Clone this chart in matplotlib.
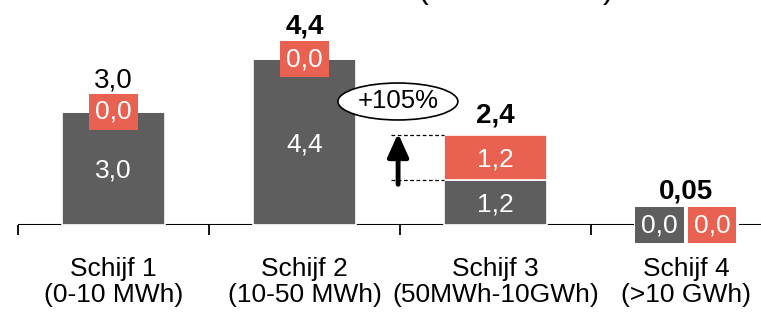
import matplotlib
matplotlib.use("Agg")
import matplotlib.pyplot as plt
from matplotlib.patches import Ellipse

plt.rcParams['font.family'] = ['Liberation Sans', 'DejaVu Sans']

categories = ["Schijf 1\n(0-10 MWh)", "Schijf 2\n(10-50 MWh)", "Schijf 3\n(50MWh-10GWh)", "Schijf 4\n(>10 GWh)"]
grey_values = [3.0, 4.4, 1.2, 0.02]
red_values = [0.0, 0.0, 1.2, 0.03]
grey_labels = ["3,0", "4,4", "1,2", "0,0"]
red_labels = ["0,0", "0,0", "1,2", "0,0"]
total_values = [3.0, 4.4, 2.4, 0.05]
total_labels = ["3,0", "4,4", "2,4", "0,05"]
total_bold = [False, True, True, True]
growth_label = "+105%"
title_text = "(in mld. EUR)"

GREY = "#5E5E5E"
RED = "#E86151"

fig = plt.figure(figsize=(7.61, 3.14), dpi=100)
ax = fig.add_axes([18/761, 89/314, 743/761, 225/314])
ax.set_xlim(-0.5, -0.5 + 743/191)
ax.set_ylim(0, 225/37.7)

x = list(range(len(categories)))
w = 0.54
ax.bar(x, grey_values, width=w, color=GREY, edgecolor="white", linewidth=1.2, zorder=2)
ax.bar(x, red_values, width=w, bottom=grey_values, color=RED, edgecolor="white", linewidth=1.2, zorder=2)

fs = 19
box_pad = "square,pad=0.23"
for i in range(len(categories)):
    g, r = grey_values[i], red_values[i]
    if i < 2:
        ax.text(i, g / 2 - 0.06, grey_labels[i], ha="center", va="center", color="white", fontsize=fs, zorder=4)
        ax.text(i, g, red_labels[i], ha="center", va="center", color="white", fontsize=fs, zorder=4,
                bbox=dict(boxstyle=box_pad, fc=RED, ec="none"))
    elif i == 2:
        ax.text(i, g / 2 - 0.06, grey_labels[i], ha="center", va="center", color="white", fontsize=fs, zorder=4)
        ax.text(i, g + r / 2 - 0.06, red_labels[i], ha="center", va="center", color="white", fontsize=fs, zorder=4)
    else:
        ax.text(i - 0.142, 0, grey_labels[i], ha="center", va="center", color="white", fontsize=fs, zorder=4,
                bbox=dict(boxstyle=box_pad, fc=GREY, ec="none"))
        ax.text(i + 0.134, 0, red_labels[i], ha="center", va="center", color="white", fontsize=fs, zorder=4,
                bbox=dict(boxstyle=box_pad, fc=RED, ec="none"))

total_offsets = [0.66, 0.69, 0.31, 0.64]
for i in range(len(categories)):
    ax.text(i, total_values[i] + total_offsets[i], total_labels[i], ha="center", va="baseline",
            fontsize=20, color="black", fontweight="bold" if total_bold[i] else "normal", zorder=4)

# growth arrow for Schijf 3
lo = grey_values[2]
hi = grey_values[2] + red_values[2]
ax.annotate("", xy=(1.49, hi + 0.03), xytext=(1.49, lo - 0.12),
            arrowprops=dict(arrowstyle="-|>,head_width=0.45,head_length=1.0", color="black", lw=3.5,
                            mutation_scale=14, shrinkA=0, shrinkB=0), zorder=5)
for yv in (lo, hi):
    ax.plot([1.455, 2 - w / 2], [yv, yv], color="black", lw=0.9, ls=(0, (3, 2)), zorder=3)
ax.add_patch(Ellipse((1.489, 3.276), 0.628, 0.98, fc="white", ec="black", lw=1.2, zorder=5))
ax.text(1.489, 3.276, growth_label, ha="center", va="center", fontsize=18.5, zorder=6)

# axis
for s in ax.spines.values():
    s.set_visible(False)
ax.axhline(0, color="black", lw=1.5, zorder=1)
ax.set_yticks([])
ax.set_xticks([-0.5, 0.5, 1.5, 2.5])
ax.set_xticklabels([])
ax.tick_params(axis="x", length=7.5, width=1.3, color="black", direction="out")
for i, c in enumerate(categories):
    ax.text(i, -0.85, c, ha="center", va="top", fontsize=19, linespacing=1.1)

fig.text(516/761, 1.0 + 2/314, title_text, ha="center", va="baseline", fontsize=23.5)

fig.savefig("out.png", dpi=100)
